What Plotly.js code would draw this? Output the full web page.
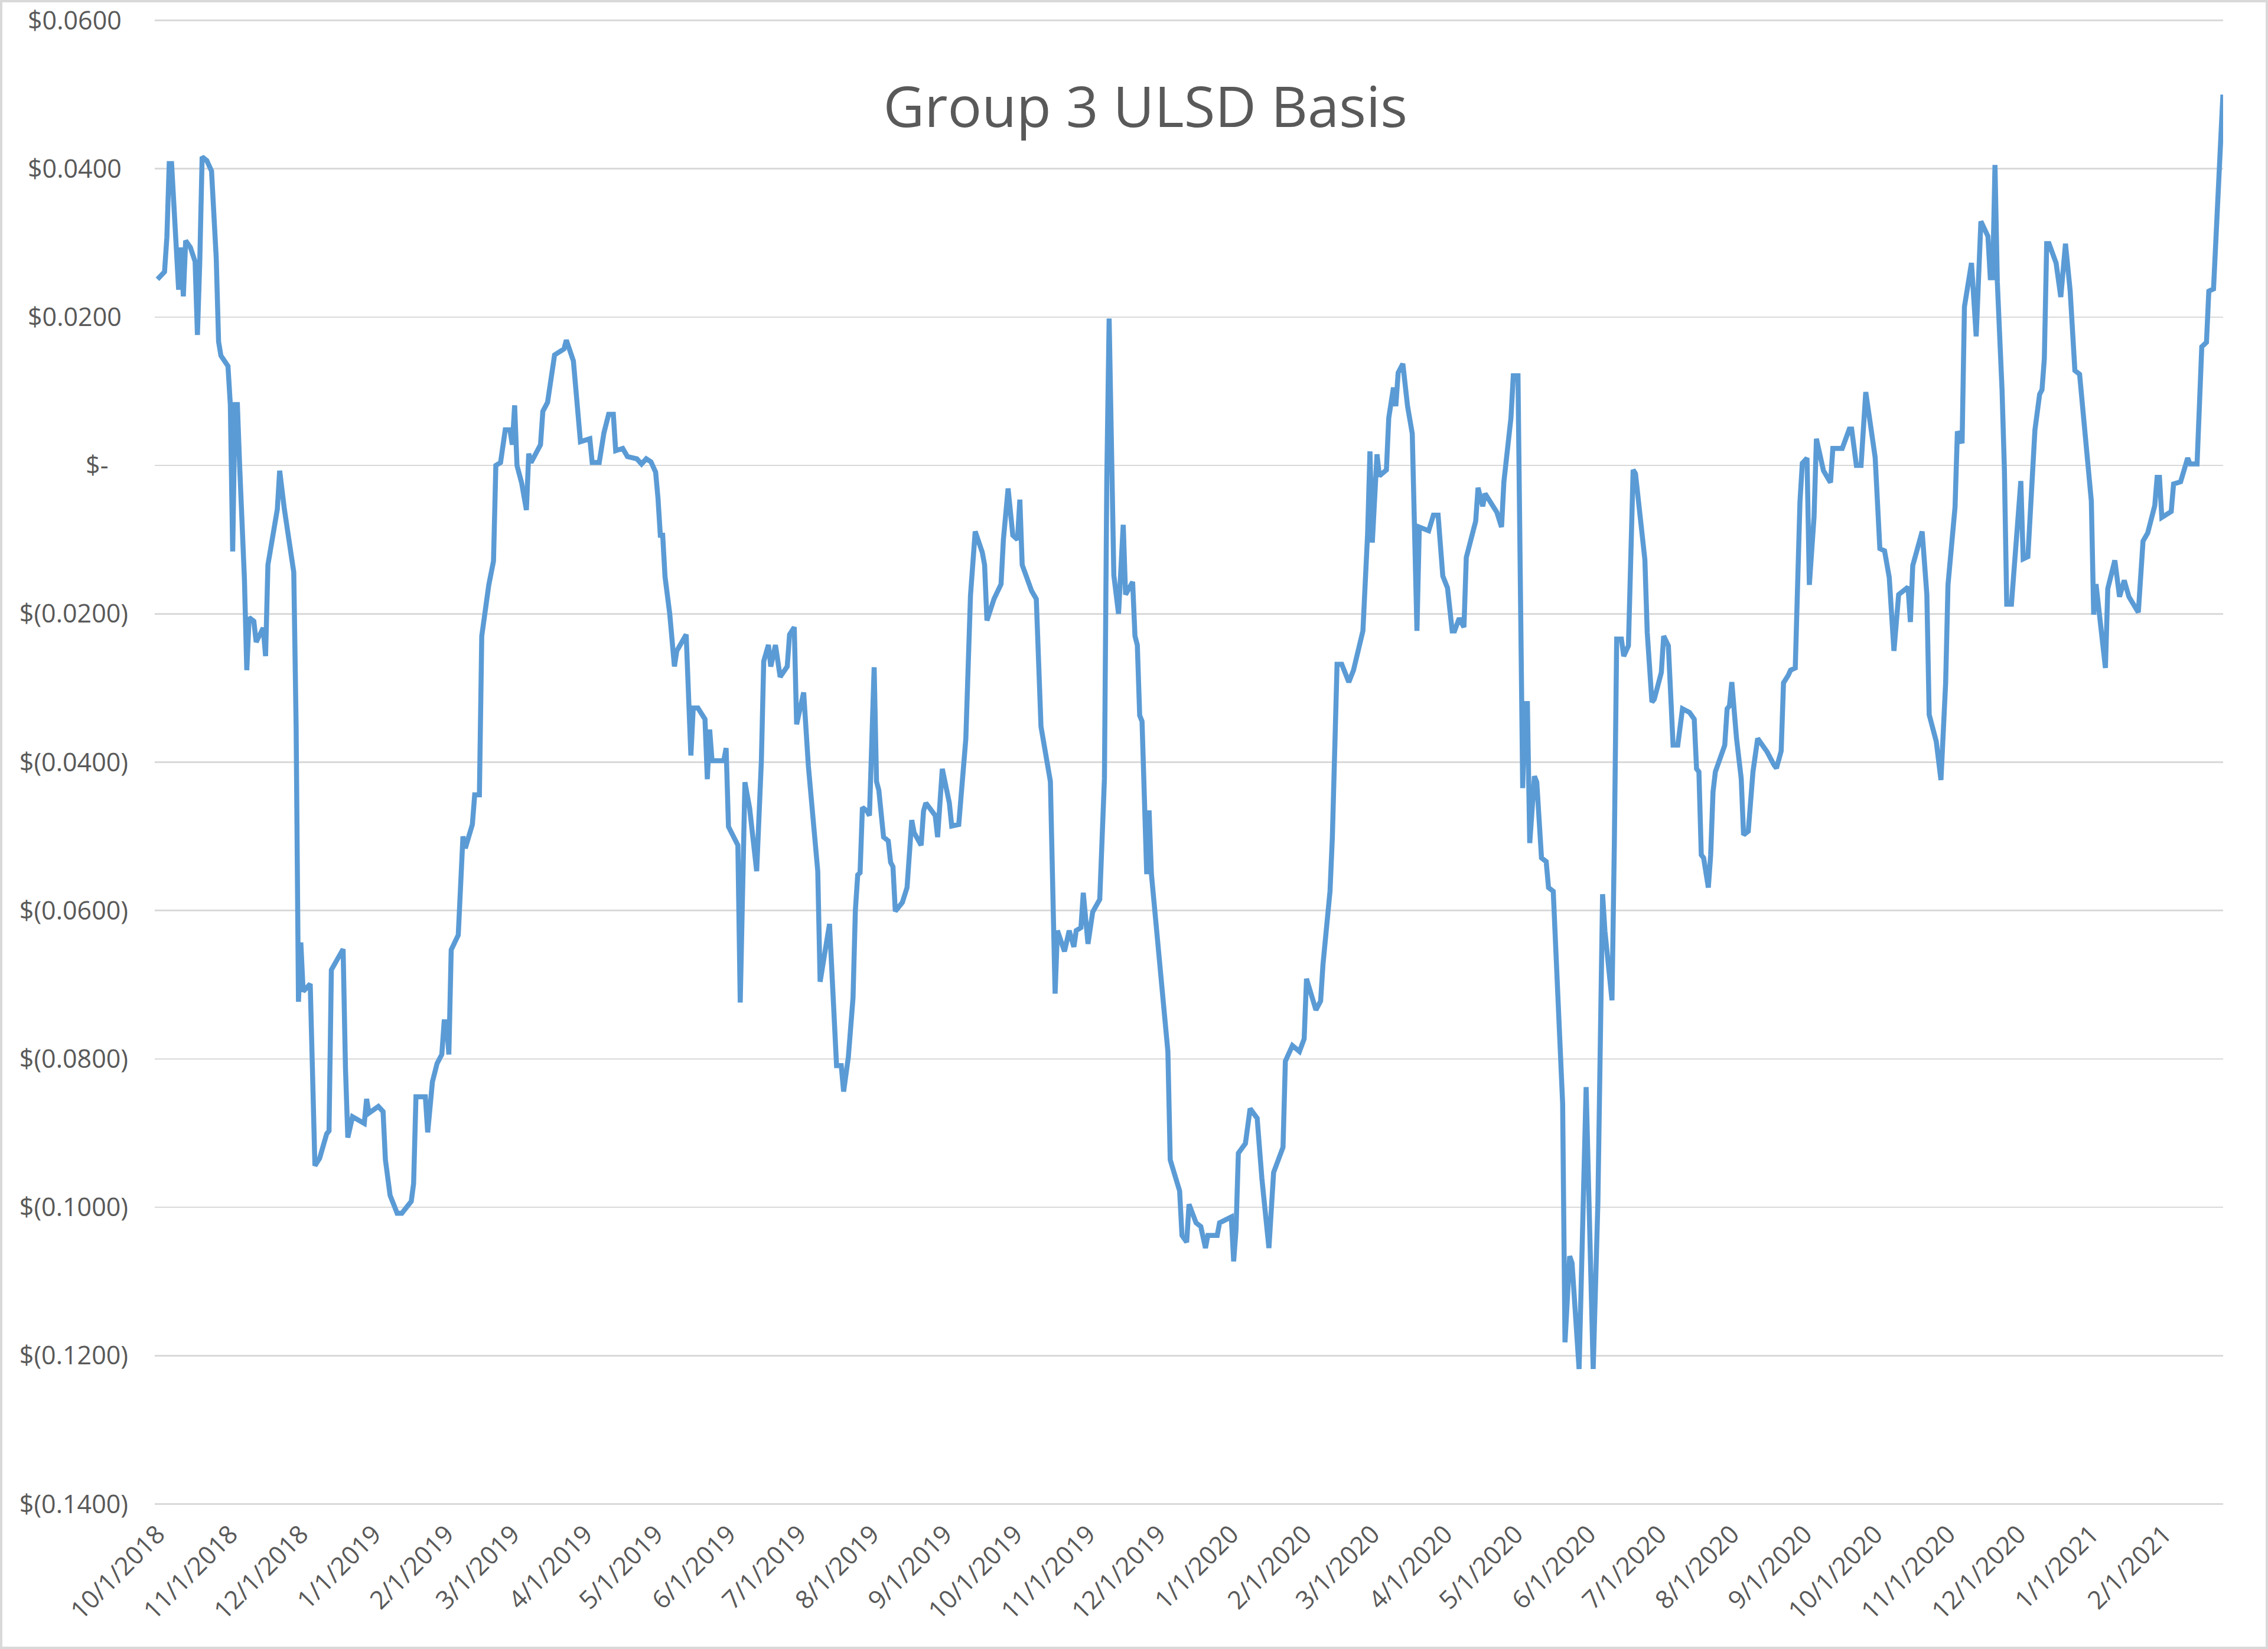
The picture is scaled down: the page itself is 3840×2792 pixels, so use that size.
<!DOCTYPE html>
<html>
<head>
<meta charset="utf-8">
<script src="https://cdn.plot.ly/plotly-3.0.1.min.js"></script>
<style>
  html, body { margin: 0; padding: 0; background: #ffffff; }
  #wrap { position: relative; width: 3840px; height: 2792px; }
  #chart { width: 3840px; height: 2792px; }
  #frame { position: absolute; left: 0; top: 0; width: 3840px; height: 2792px; box-sizing: border-box; border: 4px solid #d9d9d9; pointer-events: none; }
</style>
</head>
<body>
<div id="wrap"><div id="chart"></div><div id="frame"></div></div>
<script>
const chartTitle = "Group 3 ULSD Basis";

const dates2018 = ["2018-10-01","2018-10-04","2018-10-05","2018-10-06","2018-10-07","2018-10-10","2018-10-11","2018-10-12","2018-10-13","2018-10-15","2018-10-17","2018-10-18","2018-10-19","2018-10-20","2018-10-22","2018-10-24","2018-10-26","2018-10-27","2018-10-28","2018-10-31","2018-11-01","2018-11-02","2018-11-03","2018-11-04","2018-11-05","2018-11-07","2018-11-08","2018-11-09","2018-11-11","2018-11-12","2018-11-15","2018-11-16","2018-11-17","2018-11-21","2018-11-22","2018-11-24","2018-11-28","2018-11-29","2018-11-30","2018-12-01","2018-12-02","2018-12-05","2018-12-07","2018-12-09","2018-12-12","2018-12-13","2018-12-14","2018-12-19","2018-12-20","2018-12-21","2018-12-23","2018-12-28","2018-12-29","2018-12-30"];
const basis2018 = [0.0251,0.0261,0.0308,0.0407,0.0407,0.0237,0.0294,0.0228,0.0303,0.0294,0.0275,0.0176,0.0275,0.0416,0.0411,0.0397,0.0280,0.0167,0.0148,0.0134,0.0082,-0.0116,0.0082,0.0082,-0.0003,-0.0153,-0.0276,-0.0205,-0.0210,-0.0238,-0.0219,-0.0257,-0.0134,-0.0059,-0.0007,-0.0059,-0.0144,-0.0351,-0.0723,-0.0643,-0.0709,-0.0699,-0.0944,-0.0934,-0.0901,-0.0897,-0.0680,-0.0652,-0.0812,-0.0906,-0.0878,-0.0887,-0.0854,-0.0873];

const dates2019 = ["2019-01-03","2019-01-05","2019-01-06","2019-01-08","2019-01-11","2019-01-13","2019-01-17","2019-01-18","2019-01-19","2019-01-23","2019-01-24","2019-01-26","2019-01-28","2019-01-30","2019-01-31","2019-02-01","2019-02-02","2019-02-03","2019-02-06","2019-02-08","2019-02-09","2019-02-12","2019-02-13","2019-02-15","2019-02-16","2019-02-19","2019-02-21","2019-02-22","2019-02-24","2019-02-26","2019-02-28","2019-03-01","2019-03-02","2019-03-03","2019-03-05","2019-03-07","2019-03-08","2019-03-09","2019-03-13","2019-03-14","2019-03-16","2019-03-19","2019-03-23","2019-03-24","2019-03-27","2019-03-30","2019-04-03","2019-04-04","2019-04-07","2019-04-09","2019-04-11","2019-04-13","2019-04-14","2019-04-17","2019-04-19","2019-04-23","2019-04-25","2019-04-27","2019-04-29","2019-05-01","2019-05-02","2019-05-03","2019-05-04","2019-05-05","2019-05-07","2019-05-08","2019-05-09","2019-05-10","2019-05-14","2019-05-16","2019-05-17","2019-05-19","2019-05-22","2019-05-23","2019-05-24","2019-05-25","2019-05-30","2019-05-31","2019-06-01","2019-06-05","2019-06-06","2019-06-08","2019-06-10","2019-06-13","2019-06-15","2019-06-16","2019-06-18","2019-06-19","2019-06-21","2019-06-23","2019-06-26","2019-06-27","2019-06-29","2019-06-30","2019-07-03","2019-07-05","2019-07-09","2019-07-10","2019-07-14","2019-07-17","2019-07-19","2019-07-20","2019-07-22","2019-07-24","2019-07-25","2019-07-26","2019-07-27","2019-07-28","2019-07-30","2019-07-31","2019-08-02","2019-08-03","2019-08-04","2019-08-06","2019-08-08","2019-08-09","2019-08-10","2019-08-11","2019-08-14","2019-08-16","2019-08-18","2019-08-19","2019-08-22","2019-08-23","2019-08-24","2019-08-28","2019-08-29","2019-08-31","2019-09-03","2019-09-04","2019-09-07","2019-09-10","2019-09-12","2019-09-14","2019-09-17","2019-09-18","2019-09-19","2019-09-22","2019-09-25","2019-09-26","2019-09-28","2019-09-30","2019-10-02","2019-10-03","2019-10-04","2019-10-08","2019-10-10","2019-10-12","2019-10-16","2019-10-18","2019-10-19","2019-10-22","2019-10-24","2019-10-26","2019-10-27","2019-10-29","2019-10-30","2019-11-01","2019-11-03","2019-11-06","2019-11-08","2019-11-09","2019-11-10","2019-11-12","2019-11-14","2019-11-16","2019-11-17","2019-11-20","2019-11-21","2019-11-22","2019-11-23","2019-11-24","2019-11-26","2019-11-27","2019-11-28","2019-12-05","2019-12-06","2019-12-10","2019-12-11","2019-12-13","2019-12-14","2019-12-17","2019-12-19","2019-12-21","2019-12-22","2019-12-26","2019-12-27"];
const basis2019 = [-0.0864,-0.0871,-0.0936,-0.0984,-0.1008,-0.1008,-0.0992,-0.0968,-0.0851,-0.0851,-0.0899,-0.0831,-0.0806,-0.0794,-0.0750,-0.0750,-0.0794,-0.0653,-0.0633,-0.0500,-0.0516,-0.0484,-0.0444,-0.0444,-0.0230,-0.0161,-0.0129,0.0000,0.0004,0.0048,0.0048,0.0028,0.0081,0.0000,-0.0024,-0.0060,0.0016,0.0004,0.0028,0.0073,0.0085,0.0149,0.0157,0.0169,0.0141,0.0032,0.0036,0.0004,0.0004,0.0044,0.0069,0.0069,0.0020,0.0023,0.0012,0.0009,0.0002,0.0009,0.0005,-0.0009,-0.0044,-0.0094,-0.0094,-0.0150,-0.0200,-0.0235,-0.0271,-0.0250,-0.0228,-0.0391,-0.0327,-0.0327,-0.0342,-0.0423,-0.0356,-0.0398,-0.0398,-0.0381,-0.0487,-0.0512,-0.0724,-0.0427,-0.0462,-0.0547,-0.0398,-0.0264,-0.0242,-0.0271,-0.0242,-0.0285,-0.0271,-0.0228,-0.0218,-0.0349,-0.0306,-0.0405,-0.0547,-0.0696,-0.0618,-0.0809,-0.0809,-0.0844,-0.0798,-0.0718,-0.0600,-0.0552,-0.0549,-0.0461,-0.0466,-0.0472,-0.0272,-0.0426,-0.0438,-0.0501,-0.0506,-0.0535,-0.0541,-0.0601,-0.0589,-0.0569,-0.0478,-0.0495,-0.0512,-0.0466,-0.0455,-0.0472,-0.0501,-0.0409,-0.0455,-0.0486,-0.0484,-0.0369,-0.0175,-0.0089,-0.0117,-0.0134,-0.0209,-0.0180,-0.0160,-0.0100,-0.0031,-0.0094,-0.0100,-0.0046,-0.0134,-0.0169,-0.0180,-0.0352,-0.0426,-0.0712,-0.0627,-0.0655,-0.0627,-0.0649,-0.0627,-0.0623,-0.0576,-0.0645,-0.0602,-0.0585,-0.0422,-0.0020,0.0198,-0.0148,-0.0200,-0.0080,-0.0174,-0.0157,-0.0230,-0.0242,-0.0337,-0.0345,-0.0551,-0.0465,-0.0551,-0.0790,-0.0936,-0.0978,-0.1038,-0.1047,-0.0996,-0.1021,-0.1026,-0.1055,-0.1038,-0.1038,-0.1021];

const dates2020 = ["2020-01-01","2020-01-02","2020-01-03","2020-01-04","2020-01-07","2020-01-09","2020-01-12","2020-01-14","2020-01-17","2020-01-19","2020-01-23","2020-01-24","2020-01-27","2020-01-30","2020-02-01","2020-02-02","2020-02-06","2020-02-08","2020-02-09","2020-02-12","2020-02-13","2020-02-14","2020-02-15","2020-02-17","2020-02-20","2020-02-22","2020-02-26","2020-02-28","2020-02-29","2020-03-01","2020-03-03","2020-03-04","2020-03-07","2020-03-08","2020-03-10","2020-03-11","2020-03-12","2020-03-14","2020-03-16","2020-03-18","2020-03-19","2020-03-20","2020-03-21","2020-03-25","2020-03-27","2020-03-29","2020-03-31","2020-04-02","2020-04-04","2020-04-05","2020-04-07","2020-04-09","2020-04-10","2020-04-14","2020-04-15","2020-04-17","2020-04-18","2020-04-23","2020-04-25","2020-04-26","2020-04-29","2020-04-30","2020-05-02","2020-05-03","2020-05-04","2020-05-05","2020-05-06","2020-05-07","2020-05-09","2020-05-10","2020-05-12","2020-05-14","2020-05-15","2020-05-17","2020-05-19","2020-05-21","2020-05-22","2020-05-24","2020-05-25","2020-05-28","2020-05-31","2020-06-01","2020-06-03","2020-06-05","2020-06-07","2020-06-08","2020-06-11","2020-06-12","2020-06-13","2020-06-15","2020-06-16","2020-06-18","2020-06-19","2020-06-20","2020-06-21","2020-06-25","2020-06-26","2020-06-28","2020-06-29","2020-07-02","2020-07-03","2020-07-05","2020-07-07","2020-07-09","2020-07-11","2020-07-14","2020-07-16","2020-07-17","2020-07-18","2020-07-19","2020-07-20","2020-07-22","2020-07-23","2020-07-24","2020-07-25","2020-07-29","2020-07-30","2020-07-31","2020-08-01","2020-08-03","2020-08-05","2020-08-06","2020-08-08","2020-08-10","2020-08-12","2020-08-14","2020-08-16","2020-08-19","2020-08-20","2020-08-22","2020-08-23","2020-08-25","2020-08-26","2020-08-28","2020-08-29","2020-08-30","2020-08-31","2020-09-02","2020-09-03","2020-09-05","2020-09-06","2020-09-09","2020-09-12","2020-09-13","2020-09-17","2020-09-20","2020-09-21","2020-09-23","2020-09-25","2020-09-27","2020-10-01","2020-10-03","2020-10-05","2020-10-07","2020-10-09","2020-10-11","2020-10-15","2020-10-16","2020-10-17","2020-10-21","2020-10-23","2020-10-24","2020-10-27","2020-10-29","2020-10-31","2020-11-01","2020-11-04","2020-11-05","2020-11-07","2020-11-08","2020-11-11","2020-11-13","2020-11-15","2020-11-18","2020-11-19","2020-11-20","2020-11-21","2020-11-22","2020-11-24","2020-11-25","2020-11-26","2020-11-28","2020-12-02","2020-12-03","2020-12-05","2020-12-06","2020-12-08","2020-12-10","2020-12-11","2020-12-12","2020-12-13","2020-12-14","2020-12-17","2020-12-19","2020-12-21","2020-12-23","2020-12-25","2020-12-27","2020-12-30"];
const basis2020 = [-0.1013,-0.1073,-0.1030,-0.0927,-0.0914,-0.0867,-0.0880,-0.0961,-0.1055,-0.0953,-0.0919,-0.0803,-0.0782,-0.0790,-0.0773,-0.0692,-0.0734,-0.0722,-0.0673,-0.0574,-0.0501,-0.0394,-0.0268,-0.0268,-0.0292,-0.0276,-0.0223,-0.0092,0.0019,-0.0104,0.0015,-0.0014,-0.0006,0.0064,0.0105,0.0080,0.0125,0.0137,0.0080,0.0043,-0.0133,-0.0223,-0.0083,-0.0088,-0.0067,-0.0067,-0.0149,-0.0165,-0.0223,-0.0223,-0.0206,-0.0218,-0.0124,-0.0075,-0.0030,-0.0055,-0.0038,-0.0063,-0.0083,-0.0022,0.0064,0.0121,0.0121,-0.0231,-0.0435,-0.0321,-0.0321,-0.0509,-0.0419,-0.0427,-0.0529,-0.0534,-0.0569,-0.0574,-0.0717,-0.0860,-0.1182,-0.1066,-0.1075,-0.1218,-0.0838,-0.0985,-0.1218,-0.0994,-0.0578,-0.0628,-0.0721,-0.0511,-0.0234,-0.0234,-0.0257,-0.0243,-0.0100,-0.0006,-0.0011,-0.0127,-0.0225,-0.0319,-0.0315,-0.0279,-0.0230,-0.0243,-0.0377,-0.0377,-0.0328,-0.0333,-0.0342,-0.0409,-0.0413,-0.0525,-0.0529,-0.0569,-0.0525,-0.0440,-0.0413,-0.0377,-0.0328,-0.0324,-0.0292,-0.0368,-0.0422,-0.0498,-0.0493,-0.0413,-0.0368,-0.0377,-0.0386,-0.0404,-0.0408,-0.0385,-0.0293,-0.0283,-0.0276,-0.0273,-0.0148,-0.0049,0.0003,0.0010,-0.0161,-0.0069,0.0036,-0.0007,-0.0023,0.0023,0.0023,0.0049,0.0049,0.0000,0.0000,0.0099,0.0011,-0.0112,-0.0115,-0.0151,-0.0250,-0.0174,-0.0164,-0.0211,-0.0135,-0.0089,-0.0174,-0.0336,-0.0372,-0.0424,-0.0293,-0.0161,-0.0056,0.0046,0.0030,0.0214,0.0273,0.0174,0.0329,0.0309,0.0253,0.0253,0.0405,0.0247,0.0102,-0.0005,-0.0187,-0.0187,-0.0021,-0.0126,-0.0123,-0.0064,0.0048,0.0096,0.0102,0.0144,0.0299,0.0299,0.0273,0.0227,0.0299,0.0235,0.0128,0.0123,0.0027];

const dates2021 = ["2021-01-01","2021-01-02","2021-01-03","2021-01-07","2021-01-08","2021-01-11","2021-01-13","2021-01-15","2021-01-17","2021-01-21","2021-01-23","2021-01-25","2021-01-28","2021-01-29","2021-01-30","2021-01-31","2021-02-04","2021-02-05","2021-02-08","2021-02-11","2021-02-12","2021-02-15","2021-02-17","2021-02-19","2021-02-20","2021-02-22","2021-02-24","2021-02-26"];
const basis2021 = [-0.0048,-0.0201,-0.0160,-0.0273,-0.0166,-0.0128,-0.0177,-0.0155,-0.0177,-0.0198,-0.0102,-0.0091,-0.0054,-0.0016,-0.0016,-0.0070,-0.0062,-0.0025,-0.0022,0.0010,0.0002,0.0002,0.0160,0.0166,0.0235,0.0238,0.0364,0.0500];

const yTickVals = [0.06, 0.04, 0.02, 0, -0.02, -0.04, -0.06, -0.08, -0.10, -0.12, -0.14];
const yTickText = ["$0.0600\u00a0", "$0.0400\u00a0", "$0.0200\u00a0", "$-\u00a0\u00a0\u00a0", "$(0.0200)", "$(0.0400)", "$(0.0600)", "$(0.0800)", "$(0.1000)", "$(0.1200)", "$(0.1400)"];

const xDates = [].concat(dates2018, dates2019, dates2020, dates2021);
const yBasis = [].concat(basis2018, basis2019, basis2020, basis2021);

const trace = {
  x: xDates,
  y: yBasis,
  type: "scatter",
  mode: "lines",
  line: { color: "#5b9bd5", width: 8.5, shape: "linear" },
  hoverinfo: "x+y"
};

const tickFont = { family: "Open Sans, Liberation Sans, sans-serif", size: 43, color: "#595959" };

const layout = {
  width: 3840,
  height: 2792,
  paper_bgcolor: "#ffffff",
  plot_bgcolor: "#ffffff",
  showlegend: false,
  margin: { l: 262, r: 76, t: 32, b: 243, pad: 0 },
  title: {
    text: chartTitle,
    font: { family: "Open Sans, Liberation Sans, sans-serif", size: 96, color: "#595959" },
    x: 0.505, xref: "container", xanchor: "center",
    y: 0.935, yref: "container", yanchor: "middle"
  },
  xaxis: {
    type: "date",
    range: ["2018-09-29 20:00", "2021-02-26 02:00"],
    tick0: "2018-10-01",
    dtick: "M1",
    tickformat: "%-m/%-d/%Y",
    tickangle: -45,
    tickfont: tickFont,
    showgrid: false,
    zeroline: false,
    showline: false,
    ticks: "",
    ticklabelstandoff: 14
  },
  yaxis: {
    range: [-0.1402, 0.0602],
    tickmode: "array",
    tickvals: yTickVals,
    ticktext: yTickText,
    tickfont: tickFont,
    showgrid: true,
    gridcolor: "#d9d9d9",
    gridwidth: 2.5,
    zeroline: false,
    showline: false,
    ticks: "",
    ticklabelstandoff: 44
  }
};

Plotly.newPlot("chart", [trace], layout, { staticPlot: true, displayModeBar: false });
</script>
</body>
</html>
